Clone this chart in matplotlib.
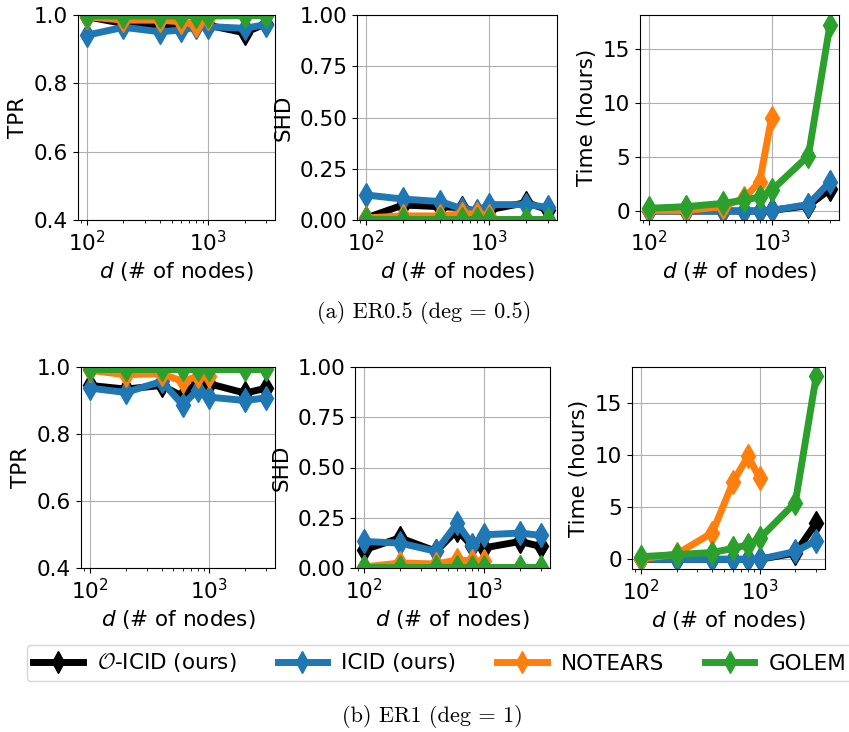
import numpy as np
import matplotlib.pyplot as plt
from matplotlib.lines import Line2D

# number of nodes
d = [100, 200, 400, 600, 800, 1000, 2000, 3000]
d_notears = [100, 200, 400, 600, 800, 1000]

# (a) ER0.5
a_tpr_oicid = [0.995, 0.975, 0.965, 0.97, 0.975, 0.97, 0.948, 0.975]
a_tpr_icid = [0.941, 0.964, 0.951, 0.956, 0.965, 0.966, 0.961, 0.972]
a_tpr_notears = [0.995, 0.985, 0.985, 0.98, 0.972, 0.99]
a_tpr_golem = [0.998, 0.997, 0.997, 0.997, 0.998, 0.997, 0.998, 0.998]

a_shd_oicid = [0.01, 0.073, 0.065, 0.06, 0.04, 0.05, 0.085, 0.05]
a_shd_icid = [0.122, 0.102, 0.09, 0.055, 0.045, 0.075, 0.075, 0.062]
a_shd_notears = [0.01, 0.02, 0.02, 0.03, 0.03, 0.02]
a_shd_golem = [0.005, 0.005, 0.005, 0.005, 0.005, 0.005, 0.005, 0.005]

a_time_oicid = [0.0, 0.0, 0.0, 0.0, 0.0, 0.05, 0.5, 2.0]
a_time_icid = [0.0, 0.0, 0.0, 0.0, 0.0, 0.05, 0.6, 2.7]
a_time_notears = [0.05, 0.05, 0.4, 1.2, 2.7, 8.6]
a_time_golem = [0.25, 0.4, 0.7, 1.0, 1.3, 1.9, 5.1, 17.2]

# (b) ER1
b_tpr_oicid = [0.945, 0.934, 0.945, 0.912, 0.957, 0.95, 0.922, 0.937]
b_tpr_icid = [0.937, 0.924, 0.957, 0.887, 0.932, 0.91, 0.9, 0.908]
b_tpr_notears = [0.99, 0.977, 0.98, 0.957, 0.972, 0.972]
b_tpr_golem = [0.995, 0.995, 0.995, 0.995, 0.995, 0.995, 0.995, 0.995]

b_shd_oicid = [0.09, 0.15, 0.083, 0.19, 0.107, 0.1, 0.132, 0.107]
b_shd_icid = [0.132, 0.124, 0.083, 0.223, 0.116, 0.165, 0.174, 0.162]
b_shd_notears = [0.005, 0.025, 0.02, 0.04, 0.035, 0.035]
b_shd_golem = [0.005, 0.005, 0.005, 0.005, 0.005, 0.005, 0.005, 0.005]

b_time_oicid = [0.0, 0.0, 0.0, 0.0, 0.0, 0.0, 0.6, 3.5]
b_time_icid = [0.0, 0.0, 0.0, 0.0, 0.0, 0.0, 0.75, 1.8]
b_time_notears = [0.05, 0.5, 2.55, 7.45, 9.9, 7.8]
b_time_golem = [0.25, 0.45, 0.65, 1.05, 1.4, 2.0, 5.45, 17.6]

labels = [r'$\mathcal{O}$-ICID (ours)', 'ICID (ours)', 'NOTEARS', 'GOLEM']
colors = ['black', '#1f77b4', '#ff7f0e', '#2ca02c']

W, H = 849, 732
FS = 15.5
fig = plt.figure(figsize=(W / 100, H / 100), dpi=100)


def panel(px, ylabel, series, ylim=None, yticks=None):
    x0, y0, x1, y1 = px
    ax = fig.add_axes([x0 / W, 1 - y1 / H, (x1 - x0) / W, (y1 - y0) / H])
    for (x, y), c in zip(series, colors):
        ax.plot(x, y, color=c, lw=5, marker='d', ms=12)
    ax.set_xscale('log')
    if ylim:
        ax.set_ylim(ylim)
    if yticks:
        ax.set_yticks(yticks)
    ax.grid(True)
    ax.set_xlabel(r'$d$ (# of nodes)', fontsize=FS)
    ax.set_ylabel(ylabel, fontsize=FS)
    ax.tick_params(labelsize=FS)
    return ax


panel((78, 15, 275, 220), 'TPR',
      [(d, a_tpr_oicid), (d, a_tpr_icid), (d_notears, a_tpr_notears), (d, a_tpr_golem)],
      (0.4, 1.0), [0.4, 0.6, 0.8, 1.0])
panel((357, 15, 557, 220), 'SHD',
      [(d, a_shd_oicid), (d, a_shd_icid), (d_notears, a_shd_notears), (d, a_shd_golem)],
      (0.0, 1.0), [0.0, 0.25, 0.5, 0.75, 1.0])
panel((640, 15, 839, 220), 'Time (hours)',
      [(d, a_time_oicid), (d, a_time_icid), (d_notears, a_time_notears), (d, a_time_golem)],
      (-0.83, 18.1), [0, 5, 10, 15])

panel((81, 367, 275, 568), 'TPR',
      [(d, b_tpr_oicid), (d, b_tpr_icid), (d_notears, b_tpr_notears), (d, b_tpr_golem)],
      (0.4, 1.0), [0.4, 0.6, 0.8, 1.0])
panel((355, 367, 550, 568), 'SHD',
      [(d, b_shd_oicid), (d, b_shd_icid), (d_notears, b_shd_notears), (d, b_shd_golem)],
      (0.0, 1.0), [0.0, 0.25, 0.5, 0.75, 1.0])
panel((632, 367, 825, 569), 'Time (hours)',
      [(d, b_time_oicid), (d, b_time_icid), (d_notears, b_time_notears), (d, b_time_golem)],
      (-0.93, 18.46), [0, 5, 10, 15])

fig.text(424 / W, 1 - 312 / H, '(a) ER0.5 (deg = 0.5)',
         family='cmr10', fontsize=16, ha='center', va='center')
fig.text(432 / W, 1 - 717 / H, '(b) ER1 (deg = 1)',
         family='cmr10', fontsize=16, ha='center', va='center')

handles = [Line2D([], [], color=c, lw=5, marker='d', ms=11) for c in colors]
leg = fig.legend(handles, labels, loc='center left', bbox_to_anchor=(27 / W, 1 - 663 / H),
                 ncol=4, fontsize=FS, handlelength=2.3, handletextpad=0.65,
                 columnspacing=1.9, borderaxespad=0, borderpad=0.3)
leg.get_texts()[0].set_math_fontfamily('cm')

fig.savefig('out.png', dpi=100)
